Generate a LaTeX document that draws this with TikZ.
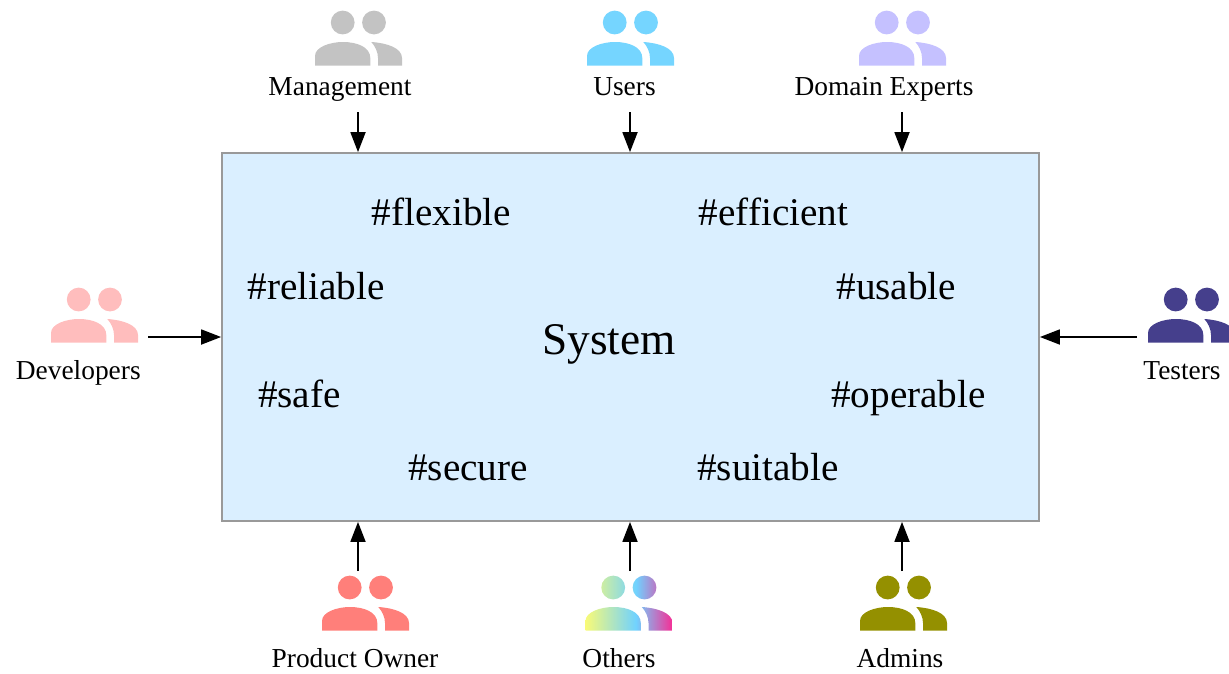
\documentclass[tikz,border=0pt]{standalone}
\usepackage{fontspec}
\setmainfont{Liberation Serif}
\usetikzlibrary{arrows.meta}
\definecolor{boxfill}{HTML}{DAEFFF}
\definecolor{boxline}{HTML}{999999}
\definecolor{cmgmt}{HTML}{C3C3C3}
\definecolor{cusers}{HTML}{75D5FF}
\definecolor{cdomain}{HTML}{C5C1FF}
\definecolor{cdev}{HTML}{FFBDBD}
\definecolor{ctest}{HTML}{453F8C}
\definecolor{cpo}{HTML}{FF7F7A}
\definecolor{cadmin}{HTML}{949000}
\definecolor{gy}{HTML}{F8FA78}
\definecolor{gc}{HTML}{70D2FF}
\definecolor{gm}{HTML}{F0359A}
\pgfdeclarehorizontalshading{rainbowicon}{100bp}{color(0bp)=(gy); color(25bp)=(gy); color(54bp)=(gc); color(74bp)=(gm); color(100bp)=(gm)}
\newcommand{\iconpath}{
  (27.7,12.5) circle (11.9) (59,12.5) circle (11.9)
  (0,55.5) -- (0,46) .. controls (0,37) and (15,32) .. (28,32) .. controls (42,32) and (55.3,37) .. (55.3,48) -- (55.3,55.5) -- cycle
  (56.3,32) .. controls (72,33) and (87,38) .. (87,48) -- (87,55.5) -- (63,55.5) -- (63,48) .. controls (63,42) and (60,36) .. (56.3,32) -- cycle}
\tikzset{
  x=1pt,y=-1pt,
  icon/.pic={\fill[pic actions] \iconpath;},
  rainbow/.pic={\begin{scope}\clip \iconpath; \shade[shading=rainbowicon] (0,0) rectangle (87,56);\end{scope}},
  who/.style={font=\fontsize{27.4}{30}\selectfont,inner sep=0pt,anchor=base},
  tag/.style={font=\fontsize{39.2}{44}\selectfont,inner sep=0pt,anchor=base},
  sysbox/.style={draw=boxline,fill=boxfill,line width=1.8pt,minimum width=817pt,minimum height=368pt,inner sep=0pt,anchor=north west},
  arr/.style={line width=1.8pt,-{Triangle[length=20pt,width=15pt]}},
}
\begin{document}
\begin{tikzpicture}
\useasboundingbox (0,0) rectangle (1229,673);
\clip (0,0) rectangle (1229,673);
\node[sysbox] (box) at (221.1,152.1) {};
\node[font=\fontsize{45.3}{50}\selectfont,inner sep=0pt,anchor=base] (sys) at (609,354) {System};
\node[tag] (t1) at (441.5,225) {\#flexible};
\node[tag] (t2) at (773.5,225) {\#efficient};
\node[tag] (t3) at (316,299.7) {\#reliable};
\node[tag] (t4) at (896.3,299.7) {\#usable};
\node[tag] (t5) at (299.5,407.7) {\#safe};
\node[tag] (t6) at (908.5,407.7) {\#operable};
\node[tag] (t7) at (468,480.7) {\#secure};
\node[tag] (t8) at (768,480.7) {\#suitable};
\pic[fill=cmgmt] at (315,10) {icon};
\pic[fill=cusers] at (587,10) {icon};
\pic[fill=cdomain] at (859,10) {icon};
\pic[fill=cdev] at (51,287) {icon};
\pic[fill=ctest] at (1148,287) {icon};
\pic[fill=cpo] at (322,575) {icon};
\pic at (585.5,575) {rainbow};
\pic[fill=cadmin] at (860,575) {icon};
\node[who] (lm) at (340,95) {Management};
\node[who] (lu) at (624.5,95) {Users};
\node[who] (ld) at (884,95) {Domain Experts};
\node[who] (ldv) at (78.3,379.6) {Developers};
\node[who] (lt) at (1182,379.6) {Testers};
\node[who] (lp) at (355,667.7) {Product Owner};
\node[who] (lo) at (619,667) {Others};
\node[who] (la) at (900,667) {Admins};
\coordinate (a1) at (358,112);
\coordinate (a2) at (630,112);
\coordinate (a3) at (902,112);
\coordinate (a4) at (148,337);
\coordinate (a5) at (1137,337);
\coordinate (a6) at (358,571);
\coordinate (a7) at (630,571);
\coordinate (a8) at (902,571);
\draw[arr] (a1) -- (a1 |- box.north);
\draw[arr] (a2) -- (a2 |- box.north);
\draw[arr] (a3) -- (a3 |- box.north);
\draw[arr] (a4) -- (a4 -| box.west);
\draw[arr] (a5) -- (a5 -| box.east);
\draw[arr] (a6) -- (a6 |- box.south);
\draw[arr] (a7) -- (a7 |- box.south);
\draw[arr] (a8) -- (a8 |- box.south);
\end{tikzpicture}
\end{document}
